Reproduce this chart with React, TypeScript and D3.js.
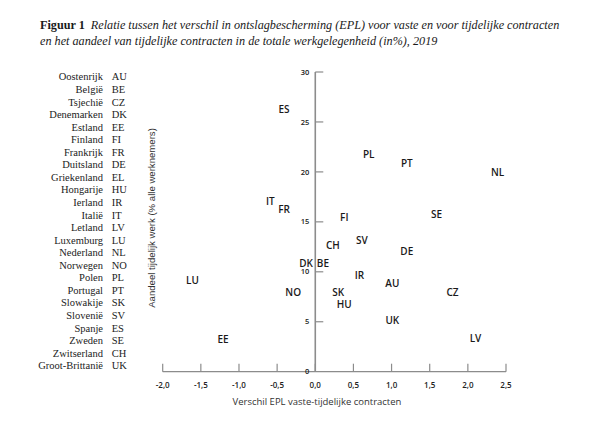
import React from 'react';
import * as d3 from 'd3';

// Legend: country names and codes
const legendNames = [
  'Oostenrijk', 'België', 'Tsjechië', 'Denemarken', 'Estland', 'Finland',
  'Frankrijk', 'Duitsland', 'Griekenland', 'Hongarije', 'Ierland', 'Italië',
  'Letland', 'Luxemburg', 'Nederland', 'Norwegen', 'Polen', 'Portugal',
  'Slowakije', 'Slovenië', 'Spanje', 'Zweden', 'Zwitserland', 'Groot-Brittanië',
];
const legendCodes = [
  'AU', 'BE', 'CZ', 'DK', 'EE', 'FI', 'FR', 'DE', 'EL', 'HU', 'IR', 'IT',
  'LV', 'LU', 'NL', 'NO', 'PL', 'PT', 'SK', 'SV', 'ES', 'SE', 'CH', 'UK',
];

// Plotted points (EL is not shown in the chart)
const pointCodes = [
  'AU', 'BE', 'CZ', 'DK', 'EE', 'FI', 'FR', 'DE', 'HU', 'IR', 'IT', 'LV',
  'LU', 'NL', 'NO', 'PL', 'PT', 'SK', 'SV', 'ES', 'SE', 'CH', 'UK',
];
const epl = [
  1.01, 0.1, 1.8, -0.12, -1.21, 0.38, -0.41, 1.2, 0.38, 0.58, -0.59, 2.1,
  -1.61, 2.39, -0.29, 0.7, 1.2, 0.3, 0.61, -0.41, 1.59, 0.23, 1.01,
];
const tempShare = [
  8.8, 10.8, 7.9, 10.8, 3.2, 15.4, 16.2, 12.0, 6.7, 9.6, 17.0, 3.3,
  9.1, 19.9, 7.9, 21.7, 20.8, 7.9, 13.1, 26.2, 15.7, 12.6, 5.1,
];

const xTicks = [-2, -1.5, -1, -0.5, 0, 0.5, 1, 1.5, 2, 2.5];
const yTicks = [0, 5, 10, 15, 20, 25, 30];

const labelFont = '"Open Sans", sans-serif';
const serif = '"Liberation Serif", serif';

export default function App() {
  const x = d3.scaleLinear().domain([-2, 2.5]).range([162.7, 506]);
  const y = d3.scaleLinear().domain([0, 30]).range([371.7, 72]);
  const fmt = (v: number) => d3.format('.1f')(v).replace('.', ',').replace('−', '-');
  const axisColor = '#8c8c8c';

  return (
    <svg
      width={600}
      height={425}
      style={{ position: 'absolute', left: 0, top: 0, background: '#fff' }}
    >
      {/* title */}
      <text x={40} y={29} fontFamily={serif} fontSize={12.2} fill="#1a1a1a">
        <tspan fontWeight="bold">Figuur 1</tspan>
        <tspan fontStyle="italic" dx={6}>
          Relatie tussen het verschil in ontslagbescherming (EPL) voor vaste en voor tijdelijke contracten
        </tspan>
      </text>
      <text x={40} y={45} fontFamily={serif} fontSize={12.2} fill="#1a1a1a" fontStyle="italic">
        en het aandeel van tijdelijke contracten in de totale werkgelegenheid (in%), 2019
      </text>

      {/* legend */}
      <g fontFamily={serif} fontSize={10.5} fill="#222">
        {legendNames.map((n, i) => (
          <g key={n} transform={`translate(0,${76.8 + i * 12.56 + 3.6})`}>
            <text x={103} textAnchor="end">{n}</text>
            <text x={111.7}>{legendCodes[i]}</text>
          </g>
        ))}
      </g>

      {/* x axis */}
      <g>
        <line x1={x(-2)} x2={x(2.5)} y1={y(0)} y2={y(0)} stroke={axisColor} strokeWidth={1.2} />
        {xTicks.map((t) => (
          <g key={t} transform={`translate(${x(t)},${y(0)})`}>
            <line y1={0} y2={-8} stroke={axisColor} strokeWidth={1.2} />
            <text
              y={16}
              textAnchor="middle"
              fontFamily={labelFont}
              fontWeight={600}
              fontSize={8}
              fill="#222"
            >
              {fmt(t)}
            </text>
          </g>
        ))}
        <text
          x={317}
          y={405}
          textAnchor="middle"
          fontFamily={labelFont}
          fontSize={9.5}
          fill="#333"
        >
          Verschil EPL vaste-tijdelijke contracten
        </text>
      </g>

      {/* y axis */}
      <g>
        <line x1={x(0)} x2={x(0)} y1={y(0)} y2={y(30)} stroke={axisColor} strokeWidth={1.6} />
        {yTicks.map((t) => (
          <g key={t} transform={`translate(${x(0)},${y(t)})`}>
            {t > 0 && <line x1={0} x2={8} stroke={axisColor} strokeWidth={1.2} />}
            <text
              x={-6}
              dy="0.35em"
              textAnchor="end"
              fontFamily={labelFont}
              fontWeight={600}
              fontSize={7.5}
              fill="#222"
            >
              {t}
            </text>
          </g>
        ))}
        <text
          transform="translate(155,218) rotate(-90)"
          textAnchor="middle"
          fontFamily='"Liberation Sans", Arial, sans-serif'
          fontSize={9.6}
          fill="#333"
        >
          Aandeel tijdelijk werk (% alle werknemers)
        </text>
      </g>

      {/* point labels */}
      <g fontFamily={labelFont} fontWeight={600} fontSize={10} fill="#1a1a1a">
        {pointCodes.map((c, i) => (
          <text
            key={c}
            x={x(epl[i])}
            y={y(tempShare[i])}
            dy="0.35em"
            textAnchor="middle"
          >
            {c}
          </text>
        ))}
      </g>
    </svg>
  );
}
